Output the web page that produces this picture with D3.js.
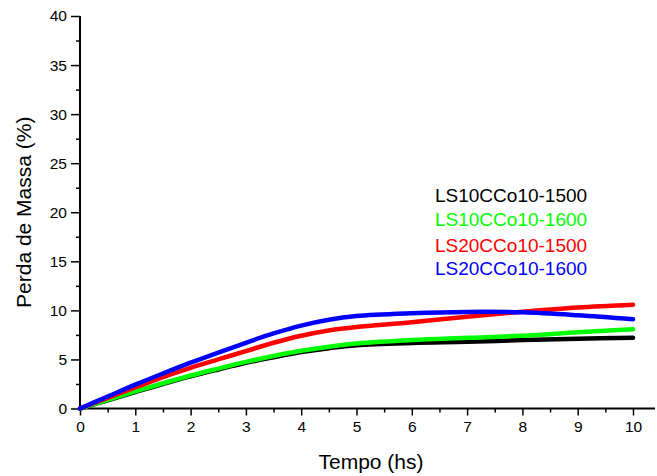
<!DOCTYPE html>
<html>
<head>
<meta charset="utf-8">
<script src="https://cdn.jsdelivr.net/npm/d3@7"></script>
<style>
  body { margin: 0; background: #fff; }
  svg { display: block; }
  text { font-family: "Liberation Sans", Arial, sans-serif; fill: #000; }
</style>
</head>
<body>
<div id="chart"></div>
<script>
const width = 657;
const height = 476;

// tempo (hs)
const tempo = [0, 0.5, 1, 1.5, 2, 2.5, 3, 3.5, 4, 4.5, 5, 6, 7, 8, 9, 10];

const ls10_1500 = [0, 0.84, 1.68, 2.5, 3.28, 3.98, 4.65, 5.22, 5.75, 6.15, 6.45, 6.68, 6.8, 6.97, 7.1, 7.22];
const ls10_1600 = [0, 0.88, 1.74, 2.57, 3.36, 4.07, 4.75, 5.35, 5.88, 6.3, 6.62, 6.98, 7.2, 7.42, 7.76, 8.07];
const ls20_1500 = [0, 1.08, 2.15, 3.2, 4.15, 5.0, 5.85, 6.7, 7.42, 7.95, 8.3, 8.78, 9.36, 9.87, 10.3, 10.58];
const ls20_1600 = [0, 1.22, 2.43, 3.57, 4.67, 5.7, 6.7, 7.65, 8.45, 9.05, 9.42, 9.7, 9.84, 9.8, 9.5, 9.09];

const seriesNames = ["LS10CCo10-1500", "LS10CCo10-1600", "LS20CCo10-1500", "LS20CCo10-1600"];
const seriesColors = ["#000000", "#00ff00", "#ff0000", "#0000ff"];
const seriesValues = [ls10_1500, ls10_1600, ls20_1500, ls20_1600];

const xTicks = d3.range(0, 11, 1);
const xMinor = d3.range(0.5, 10.5, 1);
const yTicks = d3.range(0, 41, 5);
const yMinor = d3.range(2.5, 40, 5);

const svg = d3.select("#chart")
  .append("svg")
  .attr("width", width)
  .attr("height", height);

const x = d3.scaleLinear().domain([0, 10]).range([80, 633]);
const y = d3.scaleLinear().domain([0, 40]).range([408.5, 16]);

// minor ticks first, then major ones
svg.append("g")
  .attr("transform", `translate(0,${y(0)})`)
  .call(d3.axisBottom(x).tickValues(xMinor).tickSize(4).tickFormat(""))
  .call((g) => g.select(".domain").remove());

svg.append("g")
  .attr("transform", `translate(${x(0)},0)`)
  .call(d3.axisLeft(y).tickValues(yMinor).tickSize(4).tickFormat(""))
  .call((g) => g.select(".domain").remove());

const xAxis = svg.append("g")
  .attr("transform", `translate(0,${y(0)})`)
  .call(d3.axisBottom(x).tickValues(xTicks).tickSize(7).tickPadding(5).tickFormat(d3.format("d")));
xAxis.select(".domain").remove();
xAxis.selectAll("text").attr("font-size", 15.5).attr("font-family", null);

const yAxis = svg.append("g")
  .attr("transform", `translate(${x(0)},0)`)
  .call(d3.axisLeft(y).tickValues(yTicks).tickSize(9).tickPadding(4).tickFormat(d3.format("d")));
yAxis.select(".domain").remove();
yAxis.selectAll("text").attr("font-size", 15.5).attr("font-family", null);

svg.selectAll(".tick line").attr("stroke", "#000").attr("stroke-width", 1.5);

// axis lines: the bottom one runs on past 10 to the edge
svg.append("line")
  .attr("x1", x(0)).attr("x2", 655)
  .attr("y1", y(0)).attr("y2", y(0))
  .attr("stroke", "#000").attr("stroke-width", 2);
svg.append("line")
  .attr("x1", x(0)).attr("x2", x(0))
  .attr("y1", y(0)).attr("y2", y(40))
  .attr("stroke", "#000").attr("stroke-width", 2);

const line = d3.line()
  .x((d) => x(d[0]))
  .y((d) => y(d[1]))
  .curve(d3.curveCatmullRom.alpha(0.5));

svg.append("g")
  .selectAll("path")
  .data(seriesValues)
  .join("path")
  .attr("fill", "none")
  .attr("stroke", (d, i) => seriesColors[i])
  .attr("stroke-width", 4.5)
  .attr("stroke-linecap", "round")
  .attr("d", (vals) => line(vals.map((v, i) => [tempo[i], v])));

// legend
const legendY = [202, 225.5, 251.5, 274.5];
svg.append("g")
  .selectAll("text")
  .data(seriesNames)
  .join("text")
  .attr("x", 435)
  .attr("y", (d, i) => legendY[i])
  .attr("font-size", 19)
  .style("fill", (d, i) => seriesColors[i])
  .text((d) => d);

// axis titles
svg.append("text")
  .attr("x", 371)
  .attr("y", 469)
  .attr("text-anchor", "middle")
  .attr("font-size", 21)
  .text("Tempo (hs)");

svg.append("text")
  .attr("transform", `translate(31,${y(20)}) rotate(-90)`)
  .attr("text-anchor", "middle")
  .attr("font-size", 21)
  .text("Perda de Massa (%)");
</script>
</body>
</html>
